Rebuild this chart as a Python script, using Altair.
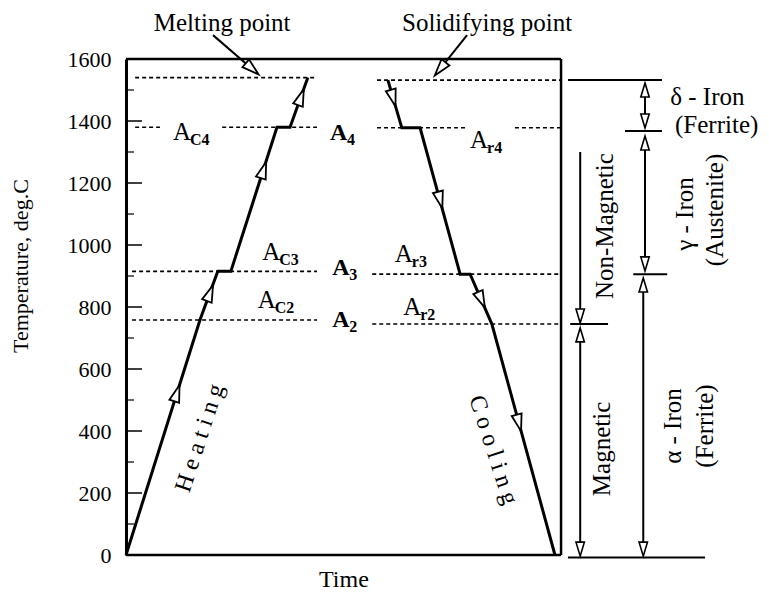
import altair as alt
import pandas as pd

# ---------------- data ----------------
tick_values = [0, 200, 400, 600, 800, 1000, 1200, 1400, 1600]
minor_values = [100, 300, 500, 700, 900, 1100, 1300, 1500]

heat_time = [0, 17.0, 21.1, 24.1, 34.7, 37.7, 41.8]
heat_temp = [0, 758, 915, 915, 1380, 1380, 1540]
cool_time = [60.2, 63.4, 67.6, 76.8, 79.1, 84.1, 98.6]
cool_temp = [1532, 1378, 1378, 906, 906, 745, 0]

# hollow arrow heads sitting on the heating / cooling curves (+ two pointers)
arrow_time = [11.7, 19.3, 31.6, 40.2, 61.4, 72.2, 81.7, 90.3, 29.0, 72.2]
arrow_temp = [522, 845, 1242, 1477, 1474, 1145, 823, 426, 1568, 1568]
arrow_angle = [18, 21, 18, 20, 164, 165, 156, 165, 131, 219]

# dotted transformation lines
dot_t0 = [2.1, 2.1, 22.1, 1.4, 1.4, 57.7, 57.7, 89.4, 56.6, 56.6]
dot_t1 = [43.9, 7.8, 43.9, 43.9, 43.9, 100, 78.4, 100, 100, 100]
dot_temp = [1540, 1380, 1380, 915, 758, 1532, 1378, 1378, 906, 745]

# frame of the plot
frame_t0 = [0, 100, 0]
frame_t1 = [100, 100, 100]
frame_v0 = [1600, 0, 0]
frame_v1 = [1600, 1600, 0]

# phase / magnetism brackets right of the frame, and pointer lines
seg_t0 = [101.6, 114.7, 116.6, 102.1, 101.6, 119.3, 119.3, 118.9, 104.4, 104.4, 20.0, 78.4]
seg_t1 = [123.2, 123.2, 124.4, 110.8, 133.1, 119.3, 119.3, 118.9, 104.4, 104.4, 29.0, 72.2]
seg_v0 = [1532, 1368, 906, 745, -8, 1500, 1329, 871, 1300, 710, 1677, 1677]
seg_v1 = [1532, 1368, 906, 745, -8, 1400, 939, 19, 771, 19, 1568, 1568]

brk_time = [119.3, 119.3, 119.3, 119.3, 118.9, 118.9, 104.4, 104.4, 104.4]
brk_temp = [1500, 1400, 1329, 939, 871, 19, 771, 710, 19]
brk_angle = [0, 180, 0, 180, 0, 180, 180, 0, 180]

# transformation point labels: A + subscript
a_time = [10.8, 79.1, 31.3, 61.8, 30.3, 63.7]
a_temp = [1339, 1313, 952, 945, 797, 774]
a_sub = ["C4", "r4", "C3", "r3", "C2", "r2"]
ab_time = [46.9, 47.4, 47.4]
ab_temp = [1339, 903, 735]
ab_sub = ["4", "3", "2"]

title_text = ["Melting point", "Solidifying point"]
title_time = [22.1, 83.0]
title_temp = [1690, 1690]

horiz_text = ["δ  -  Iron", "(Ferrite)"]
horiz_time = [125.1, 126.2]
horiz_temp = [1452, 1361]

vert_text = ["Non-Magnetic", "Magnetic", "γ  -  Iron", "(Austenite)", "α  -  Iron", "(Ferrite)"]
vert_time = [110.1, 109.4, 128.5, 135.4, 125.7, 133.1]
vert_temp = [1061, 342, 1100, 1113, 416, 416]

# ---------------- chart ----------------
FONT = "Liberation Serif"
XS = alt.Scale(domain=[0, 147.8], nice=False, zero=False)
YS = alt.Scale(domain=[0, 1600], nice=False, zero=False)
YAXIS = alt.Axis(
    values=tick_values, format="d", ticks=False, grid=False, title=None,
    labelFont=FONT, labelFontSize=22, labelColor="black", labelPadding=15,
    labelFlush=False, labelOverlap=False,
    domainColor="black", domainWidth=3)


def X(f):
    return alt.X(f, type="quantitative", scale=XS, axis=None)


def Y(f):
    return alt.Y(f, type="quantitative", scale=YS, axis=YAXIS)


frame_df = pd.DataFrame({"t0": frame_t0, "t1": frame_t1, "v0": frame_v0, "v1": frame_v1})
frame = alt.Chart(frame_df).mark_rule(color="black", strokeWidth=2.5).encode(
    x=X("t0"), x2="t1", y=Y("v0"), y2="v1")

major_df = pd.DataFrame({"v": tick_values[1:-1]})
major = alt.Chart(major_df).mark_rule(color="black", strokeWidth=1.5).encode(
    y=Y("v"), x=alt.value(0), x2=alt.value(16))
minor_df = pd.DataFrame({"v": minor_values})
minor = alt.Chart(minor_df).mark_rule(color="black", strokeWidth=1.2).encode(
    y=Y("v"), x=alt.value(0), x2=alt.value(8))

dot_df = pd.DataFrame({"t0": dot_t0, "t1": dot_t1, "v": dot_temp})
dots = alt.Chart(dot_df).mark_rule(color="black", strokeWidth=1.6, strokeDash=[4, 3]).encode(
    x=X("t0"), x2="t1", y=Y("v"))

curve_df = pd.DataFrame({
    "t": heat_time + cool_time,
    "v": heat_temp + cool_temp,
    "curve": ["heat"] * len(heat_time) + ["cool"] * len(cool_time),
    "i": list(range(len(heat_time))) + list(range(len(cool_time))),
})
curves = alt.Chart(curve_df).mark_line(color="black", strokeWidth=3, strokeJoin="miter").encode(
    x=X("t"), y=Y("v"), detail="curve:N", order="i:Q")

seg_df = pd.DataFrame({"t0": seg_t0, "t1": seg_t1, "v0": seg_v0, "v1": seg_v1})
segs = alt.Chart(seg_df).mark_rule(color="black", strokeWidth=2).encode(
    x=X("t0"), x2="t1", y=Y("v0"), y2="v1")

ARROW = "M0,-1L0.6,1L-0.6,1Z"
arrow_df = pd.DataFrame({"t": arrow_time, "v": arrow_temp, "a": arrow_angle})
arrows = alt.Chart(arrow_df).mark_point(
    shape=ARROW, size=289, filled=True, fill="white", stroke="black",
    strokeWidth=1.8, opacity=1, fillOpacity=1, strokeOpacity=1).encode(
    x=X("t"), y=Y("v"), angle=alt.Angle("a:Q", scale=None))

brk_df = pd.DataFrame({"t": brk_time, "v": brk_temp, "a": brk_angle})
brks = alt.Chart(brk_df).mark_point(
    shape=ARROW, size=196, filled=True, fill="white", stroke="black",
    strokeWidth=1.6, opacity=1, fillOpacity=1, strokeOpacity=1).encode(
    x=X("t"), y=Y("v"), angle=alt.Angle("a:Q", scale=None))

a_df = pd.DataFrame({"t": a_time, "v": a_temp, "s": a_sub, "m": ["A"] * len(a_time)})
a_main = alt.Chart(a_df).mark_text(font=FONT, fontSize=25, align="left", baseline="alphabetic",
                                   color="black").encode(x=X("t"), y=Y("v"), text="m:N")
a_subs = alt.Chart(a_df).mark_text(font=FONT, fontSize=16, fontWeight="bold", align="left",
                                   baseline="alphabetic", dx=17, dy=5, color="black").encode(
    x=X("t"), y=Y("v"), text="s:N")
ab_df = pd.DataFrame({"t": ab_time, "v": ab_temp, "s": ab_sub, "m": ["A"] * len(ab_time)})
ab_main = alt.Chart(ab_df).mark_text(font=FONT, fontSize=24, fontWeight="bold", align="left",
                                     baseline="alphabetic", color="black").encode(
    x=X("t"), y=Y("v"), text="m:N")
ab_subs = alt.Chart(ab_df).mark_text(font=FONT, fontSize=16, fontWeight="bold", align="left",
                                     baseline="alphabetic", dx=17, dy=5, color="black").encode(
    x=X("t"), y=Y("v"), text="s:N")

title_df = pd.DataFrame({"t": title_time, "v": title_temp, "s": title_text})
titles = alt.Chart(title_df).mark_text(font=FONT, fontSize=25, align="center",
                                       baseline="alphabetic", color="black").encode(
    x=X("t"), y=Y("v"), text="s:N")

horiz_df = pd.DataFrame({"t": horiz_time, "v": horiz_temp, "s": horiz_text})
horiz = alt.Chart(horiz_df).mark_text(font=FONT, fontSize=25, align="left",
                                      baseline="alphabetic", color="black").encode(
    x=X("t"), y=Y("v"), text="s:N")

vert_df = pd.DataFrame({"t": vert_time, "v": vert_temp, "s": vert_text})
vert = alt.Chart(vert_df).mark_text(font=FONT, fontSize=25, align="center", baseline="middle",
                                    angle=270, color="black").encode(
    x=X("t"), y=Y("v"), text="s:N")

heat_lbl = alt.Chart(pd.DataFrame({"t": [17.0], "v": [377], "s": ["H e a t i n g"]})).mark_text(
    font=FONT, fontSize=24, align="center", baseline="middle", angle=288, color="black").encode(
    x=X("t"), y=Y("v"), text="s:N")
cool_lbl = alt.Chart(pd.DataFrame({"t": [84.4], "v": [339], "s": ["C o o l i n g"]})).mark_text(
    font=FONT, fontSize=24, align="center", baseline="middle", angle=72, color="black").encode(
    x=X("t"), y=Y("v"), text="s:N")

ytitle = alt.Chart(pd.DataFrame({"t": [-24.1], "v": [932], "s": ["Temperature,  deg.C"]})).mark_text(
    font=FONT, fontSize=22, align="center", baseline="middle", angle=270, color="black").encode(
    x=X("t"), y=Y("v"), text="s:N")
xtitle = alt.Chart(pd.DataFrame({"t": [50.1], "v": [-81], "s": ["Time"]})).mark_text(
    font=FONT, fontSize=24, align="center", baseline="middle", color="black").encode(
    x=X("t"), y=Y("v"), text="s:N")

chart = alt.layer(
    frame, dots, major, minor, curves, segs, arrows, brks,
    a_main, a_subs, ab_main, ab_subs, titles, horiz, vert, heat_lbl, cool_lbl, ytitle, xtitle,
).properties(
    width=643, height=496,
    autosize=alt.AutoSizeParams(type="none"),
    padding={"left": 126, "top": 59, "right": 0, "bottom": 37},
    background="white",
).configure_view(stroke=None)

chart.save("out.html", embed_options={"renderer": "svg", "actions": False})
